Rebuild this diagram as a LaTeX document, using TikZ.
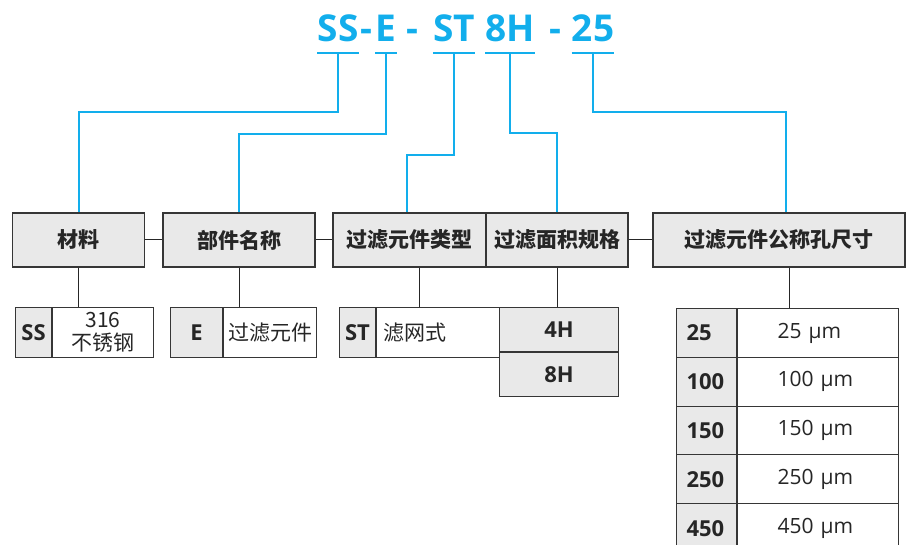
\documentclass[tikz,border=0pt]{standalone}
\usepackage{fontspec}
\setmainfont{Open Sans}
\newfontfamily\cjk{Noto Sans CJK SC}
\usetikzlibrary{positioning}
\definecolor{codeblue}{HTML}{12AEEC}
\definecolor{boxgray}{HTML}{E9E9E9}
\definecolor{framegray}{HTML}{363636}

\begin{document}
\begin{tikzpicture}[x=1pt,y=-1pt,
    code node/.style={font=\fontsize{37}{40}\selectfont\bfseries,text=codeblue,inner sep=0,anchor=base},
    head node/.style={draw=framegray,fill=boxgray,line width=1.3pt,minimum height=54pt,inner sep=0,
      font=\cjk\bfseries\fontsize{21}{24}\selectfont,text=black!85},
    key node/.style={draw=framegray,fill=boxgray,line width=1.1pt,inner sep=0,anchor=north west,
      font=\bfseries\fontsize{22}{24}\selectfont,text=black!85},
    val node/.style={draw=framegray,fill=white,line width=1.1pt,inner sep=0,anchor=north west,
      font=\cjk\fontsize{21}{23}\selectfont,text=black!85},
    blue line/.style={draw=codeblue,line width=2pt},
    dark line/.style={draw=black!85,line width=1pt}]

  \useasboundingbox (0,0) rectangle (906,545);

  % order code
  \node[code node] (ss) at (338,42) {SS};
  \node[code node] (d1) at (366,42) {-};
  \node[code node] (e)  at (386,42) {E};
  \node[code node] (d2) at (412,42) {-};
  \node[code node] (st) at (454,42) {ST};
  \node[code node] (eh) at (510,42) {8H};
  \node[code node] (d3) at (555,42) {-};
  \node[code node] (sz) at (593,42) {25};

  % header boxes
  \node[head node,minimum width=132pt] (mat)  at (78.5,240) {材料};
  \node[head node,minimum width=152pt] (part) at (239,240)  {部件名称};
  \node[head node,minimum width=153pt] (type) at (409.5,240) {过滤元件类型};
  \node[head node,minimum width=142pt] (spec) at (557,240)  {过滤面积规格};
  \node[head node,minimum width=252pt] (size) at (779,240)  {过滤元件公称孔尺寸};

  \path[dark line]
    (mat) edge (part)
    (part) edge (type)
    (spec) edge (size);

  % code underlines and leaders
  \foreach \c/\h/\y/\dx in {ss/mat/112/0,e/part/134/0,st/type/155/-2.5,eh/spec/133/0,sz/size/112/7} {
    \coordinate (\c u) at ([yshift=-11pt]\c.base);
    \draw[blue line] (\c.west |- \c u) -- (\c.east |- \c u);
    \draw[blue line] (\c u) -- (\c u |- 0,\y) -| ([xshift=\dx pt]\h.north);
  }

  % material
  \node[key node,minimum width=36pt,minimum height=50pt] (ssk) at (15,307) {SS};
  \node[val node,minimum width=101pt,minimum height=50pt,align=center] (ssv) at (ssk.north east) {316\\不锈钢};
  % part
  \node[key node,minimum width=52pt,minimum height=50pt] (ek) at (170,307) {E};
  \node[val node,minimum width=93pt,minimum height=50pt] (ev) at (ek.north east) {过滤元件};
  % type
  \node[key node,minimum width=36pt,minimum height=50pt] (stk) at (339,307) {ST};
  \node[val node,minimum height=50pt,text width=110pt,inner xsep=7pt] (stv) at (stk.north east) {滤网式};
  % area
  \node[key node,minimum width=119pt,minimum height=44pt] (fourh) at (499,307) {4H};
  \node[key node,minimum width=119pt,minimum height=44pt] (eighth) at (fourh.south west) {8H};
  % mesh size
  \foreach \k [count=\i from 0] in {25,100,150,250,450} {
    \node[key node,minimum height=48.8pt,text width=40pt,inner xsep=10pt] (k\i) at (676,308+48.8*\i) {\k};
    \node[val node,minimum height=48.8pt,text width=81pt,inner xsep=40pt,font=\fontsize{21}{23}\selectfont] (v\i) at (k\i.north east) {\k~µm};
  }

  \draw[dark line] (mat.south) -- (mat.south |- ssv.north);
  \draw[dark line] (part.south) -- (part.south |- ev.north);
  \draw[dark line] ([xshift=10pt]type.south) -- ([xshift=10pt]type.south |- stv.north);
  \draw[dark line] (spec.south) -- (spec.south |- fourh.north);
  \draw[dark line] ([xshift=10pt]size.south) -- ([xshift=10pt]size.south |- k0.north);
\end{tikzpicture}
\end{document}
